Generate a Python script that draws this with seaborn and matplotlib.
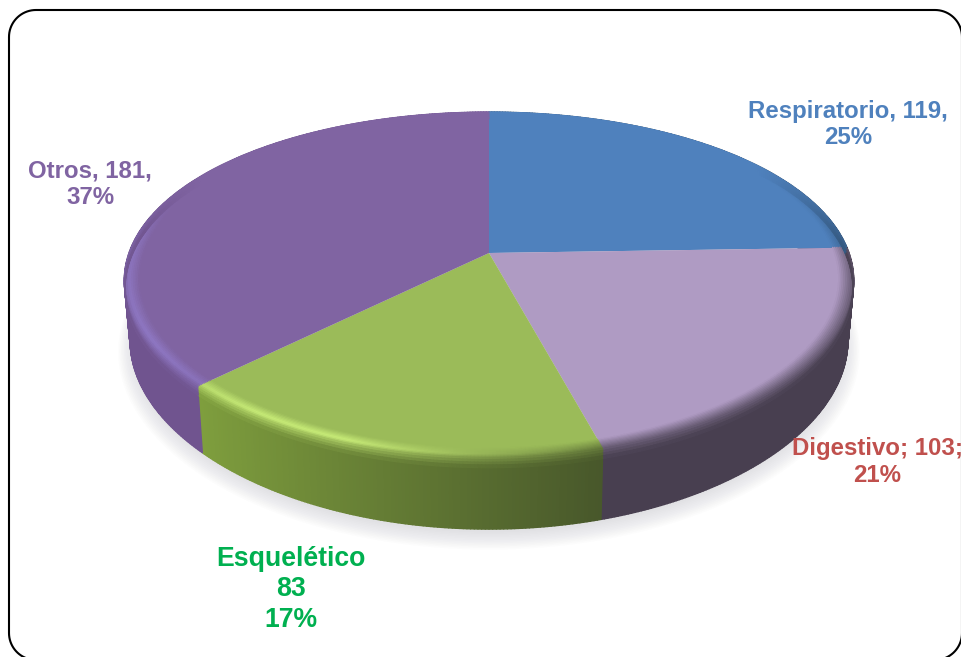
import numpy as np
import matplotlib
matplotlib.use("Agg")
import matplotlib.pyplot as plt
import seaborn as sns
from matplotlib.collections import PolyCollection
from matplotlib.transforms import Transform

names = ["Respiratorio", "Digestivo", "Esquelético", "Otros"]
values = [119, 103, 83, 181]
percents = [25, 21, 17, 37]
label_formats = ["{n}, {v},\n{p}%", "{n}; {v};\n{p}%", "{n}\n{v}\n{p}%", "{n}, {v},\n{p}%"]

face_colors = ["#4F81BD", "#AF9BC3", "#9BBB59", "#8064A2"]
text_colors = ["#4F81BD", "#C0504D", "#00B050", "#8064A2"]
wall_light = ["#34587F", "#483F50", "#83A43F", "#70548F"]
wall_dark = ["#34587F", "#483F50", "#46552A", "#70548F"]
rim_colors = ["#4F81BD", "#AF9BC3", "#C8EC78", "#8F78C4"]

# perspective of the pie disc, in pixels
CX, CY = 489, 253
SX, SY, P, PX = 360, 167, 0.185, 0.16
DEPTH = 58


def project(x, y, d=0.0):
    w = 1 + P * y
    wx = 1 + PX * y
    return np.column_stack([
        CX + SX * x / wx * (1 - 0.016 * d / DEPTH),
        CY - SY * y / w + d / w,
    ])


class Perspective(Transform):
    input_dims = 2
    output_dims = 2
    has_inverse = False

    def transform_non_affine(self, values):
        values = np.asarray(values)
        return project(values[:, 0], values[:, 1])


def to_rgb(cols):
    return np.array([matplotlib.colors.to_rgb(c) for c in cols])


sns.set_theme(style="white")
plt.rcParams["font.family"] = ["Liberation Sans", "DejaVu Sans"]

fig = plt.figure(figsize=(9.61, 6.57), dpi=100)
ax = fig.add_axes([0, 0, 1, 1])

palette = sns.color_palette(face_colors)
wedges, _ = ax.pie(values, colors=palette, startangle=90, counterclock=False,
                   wedgeprops={"linewidth": 0})
for w in wedges:
    w.set_transform(Perspective() + ax.transData)
    w.set_zorder(4)
    w.set_clip_on(False)

ax.set_aspect("auto")
ax.set_xlim(0, 961)
ax.set_ylim(657, 0)
ax.axis("off")

# slice index for each angle, clockwise from the top
edges = 360 * np.cumsum(values) / np.sum(values)
theta = np.linspace(0, 360, 721)
mid = (theta[:-1] + theta[1:]) / 2
slice_idx = np.searchsorted(edges, mid)
x_rim = np.sin(np.radians(theta))
y_rim = np.cos(np.radians(theta))

face = to_rgb(face_colors)[slice_idx]
rim = to_rgb(rim_colors)[slice_idx]
t_x = np.clip((np.sin(np.radians(mid)) + 0.80) / 1.1, 0, 1)[:, None]
wall = to_rgb(wall_light)[slice_idx] * (1 - t_x) + to_rgb(wall_dark)[slice_idx] * t_x
glow = np.interp(mid, [164, 182, 200, 215, 226, 240, 275, 300], [0, 0.4, 1, 1, 0.8, 1, 0.8, 0])[:, None]
front = np.interp(mid, [55, 85, 280, 300], [0, 1, 1, 0])[:, None]

# soft shadow under the pie
for k in range(12):
    grow = 1.035 - 0.004 * k
    pts = project(x_rim * grow, y_rim * grow, DEPTH + 9 - 0.4 * k)
    ax.fill(pts[:, 0], pts[:, 1], color="#6E6E78", alpha=0.014, lw=0, zorder=1)

# side wall, one thin strip per angle step
top = project(x_rim, y_rim)
bottom = project(x_rim, y_rim, DEPTH)
quads = np.stack([top[:-1], top[1:], bottom[1:], bottom[:-1]], axis=1)
ax.add_collection(PolyCollection(quads, facecolors=wall, edgecolors=wall, linewidths=1.0, zorder=2))

# bevel between the top face and the wall
levels = np.linspace(0, 1, 13)
bevel_r = np.where(levels < 0.7, 0.96 + (1 - 0.96) * levels / 0.7, 1.0)
bevel_d = np.where(levels < 0.7, 0.0, 8 * (levels - 0.7) / 0.3)
peak = (face + wall) / 2 * (1 - glow) + rim * glow
for s0, s1, r0, r1, d0, d1 in zip(levels[:-1], levels[1:], bevel_r[:-1], bevel_r[1:], bevel_d[:-1], bevel_d[1:]):
    inner = project(x_rim * r0, y_rim * r0, d0)
    outer = project(x_rim * r1, y_rim * r1, d1)
    quads = np.stack([inner[:-1], inner[1:], outer[1:], outer[:-1]], axis=1)
    s = (s0 + s1) / 2
    if s < 0.5:
        cols = face * (1 - s / 0.5) + peak * s / 0.5
    else:
        cols = peak * (1 - (s - 0.5) / 0.5) + wall * (s - 0.5) / 0.5
    cols = face * (1 - front) + cols * front
    ax.add_collection(PolyCollection(quads, facecolors=cols, edgecolors=cols, linewidths=0.9, zorder=5))

# data labels
label_pos = [(848, 124.5), (877, 462), (291, 589.5), (90, 184.5)]
label_size = [17.3, 17.3, 19.2, 17.3]
label_spacing = [1.18, 1.18, 1.21, 1.18]
for i, (xp, yp) in enumerate(label_pos):
    txt = label_formats[i].format(n=names[i], v=values[i], p=percents[i])
    ax.text(xp, yp, txt, color=text_colors[i], fontsize=label_size[i], fontweight="bold",
            ha="center", va="center", multialignment="center", linespacing=label_spacing[i],
            zorder=8)

# rounded chart border, runs off the right and bottom of the canvas
L, T, R, B, RAD = 9, 10, 962, 660, 27
a = np.radians(np.linspace(0, 90, 20))
bx = np.r_[L + RAD - RAD * np.cos(a), R - RAD + RAD * np.sin(a), R - RAD + RAD * np.cos(a), L + RAD - RAD * np.sin(a), L]
by = np.r_[T + RAD - RAD * np.sin(a), T + RAD - RAD * np.cos(a), B - RAD + RAD * np.sin(a), B - RAD + RAD * np.cos(a), T + RAD]
ax.plot(bx, by, color="black", lw=1.5, zorder=9)

fig.savefig("out.png", dpi=100)
